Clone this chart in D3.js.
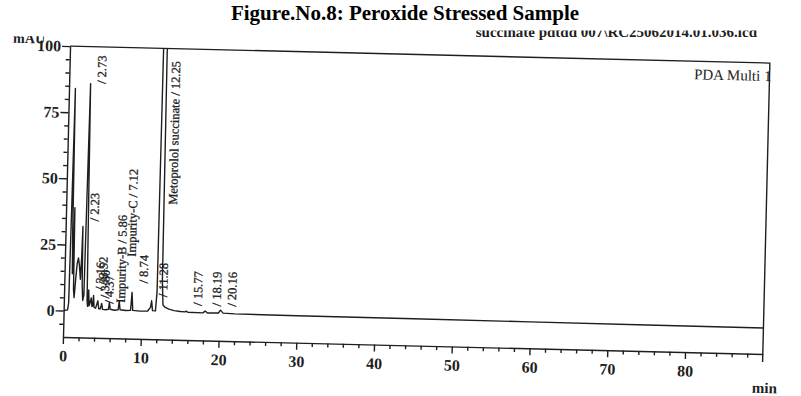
<!DOCTYPE html>
<html>
<head>
<meta charset="utf-8">
<script src="https://cdn.jsdelivr.net/npm/d3@7"></script>
<style>
  html, body { margin: 0; padding: 0; background: #fff; }
  svg { display: block; font-family: "Liberation Serif", "Times New Roman", serif; }
</style>
</head>
<body>
<svg id="chart" width="801" height="396"></svg>
<script>
// Trace: retention time (min) and signal (mAU)
const traceTime = [0, 0.5, 0.62, 0.72, 0.82, 0.92, 1.0, 1.07, 1.13, 1.2, 1.3, 1.45, 1.6, 1.75, 1.9, 2.05, 2.15, 2.22, 2.3, 2.42, 2.55, 2.65, 2.76, 2.88, 2.98, 3.06, 3.16, 3.26, 3.4, 3.52, 3.62, 3.72, 3.8, 3.9, 4.1, 4.37, 4.5, 4.7, 4.87, 5.0, 5.4, 5.75, 5.86, 5.98, 6.5, 7.0, 7.12, 7.25, 8.0, 8.6, 8.74, 8.88, 9.8, 10.8, 11.15, 11.28, 11.42, 11.8, 11.95, 12.08, 12.45, 12.6, 12.75, 13.0, 13.5, 14.2, 15.0, 15.6, 15.77, 15.95, 17.9, 18.19, 18.5, 19.9, 20.16, 20.5, 22, 30, 45, 60, 75, 90];
const traceMAU  = [0, 0.3, 3, 40, 84, 30, 14, 20, 39, 8, 5, 12, 18, 20, 17, 12, 20, 32, 10, 4, 6, 45, 86, 40, 4, 1.8, 8, 2, 3.5, 5, 1.8, 2, 6, 1.5, 1.2, 4, 1, 1, 3, 0.8, 0.7, 0.9, 3.5, 0.9, 0.6, 0.8, 4, 0.8, 0.6, 0.7, 7.5, 0.7, 0.5, 0.6, 2, 4.5, 0.8, 0.7, 8, 150, 150, 12, 3, 2.2, 1.5, 1, 0.7, 0.6, 0.9, 0.5, 0.4, 1.1, 0.4, 0.5, 1.6, 0.5, 0.3, 0.2, 0.1, 0, -0.1, -0.2];

// Peak annotations: retention time, text, height (mAU) where the label starts
const peakTimes  = [2.23, 2.73, 3.16, 3.52, 3.80, 4.37, 5.86, 7.12, 8.74, 11.28, 12.25, 15.77, 18.19, 20.16];
const peakTexts  = ["/ 2.23", "/ 2.73", "/ 3.16", "/ 3.52", "/ 3.80", "/ 4.37", "Impurity-B / 5.86", "Impurity-C / 7.12", "/ 8.74", "/ 11.28", "Metoprolol succinate / 12.25", "/ 15.77", "/ 18.19", "/ 20.16"];
const peakLabelAt = [34, 86, 8, 10, 5, 3, 3.5, 21, 11, 6, 41, 3, 3, 3];

const xMajor = [0, 10, 20, 30, 40, 50, 60, 70, 80];
const yMajor = [0, 25, 50, 75, 100];

const svg = d3.select("#chart");
const ink = "#1e1e1e";

// Caption
svg.append("text")
    .attr("x", 405).attr("y", 19.5)
    .attr("text-anchor", "middle")
    .attr("font-weight", "bold")
    .attr("font-size", 21)
    .attr("fill", "#000")
    .text("Figure.No.8: Peroxide Stressed Sample");

// Scanned plot, slightly rotated as on the page
const x0 = 63, axisY = 337, plotW = 700, plotH = 291;
const x = d3.scaleLinear().domain([0, 90]).range([x0, x0 + plotW]);
const y = d3.scaleLinear().domain([-10, 100]).range([axisY, axisY - plotH]);

const defs = svg.append("defs");
defs.append("clipPath").attr("id", "plotClip")
  .append("rect")
    .attr("x", x0).attr("y", y(100))
    .attr("width", plotW).attr("height", plotH);
defs.append("clipPath").attr("id", "pathClip")
  .append("rect").attr("x", 476).attr("y", 30.5).attr("width", 330).attr("height", 20);
defs.append("clipPath").attr("id", "unitClip")
  .append("rect").attr("x", 0).attr("y", 37).attr("width", 60).attr("height", 20);

// Header pieces partly hidden under the caption
svg.append("text")
    .attr("clip-path", "url(#pathClip)")
    .attr("x", 757).attr("y", 36.5)
    .attr("text-anchor", "end")
    .attr("font-size", 15)
    .attr("font-weight", "bold")
    .attr("fill", ink)
    .text("D:\\Data\\Metoprolol succinate pdtdd 007\\RC25062014.01.036.lcd");

const page = svg.append("g")
    .attr("transform", `rotate(1.39, ${x0}, ${axisY})`);

page.append("text")
    .attr("clip-path", "url(#unitClip)")
    .attr("x", 6).attr("y", 44)
    .attr("font-size", 14)
    .attr("font-weight", "bold")
    .attr("fill", ink)
    .text("mAU");

// Frame
page.append("path")
    .attr("d", `M${x0},${y(100)}H${x0 + plotW}V${axisY + 8}`)
    .attr("fill", "none")
    .attr("stroke", ink)
    .attr("stroke-width", 1.4);

// Y axis
page.append("g")
    .attr("transform", `translate(${x0},0)`)
    .call(d3.axisLeft(y).tickValues(yMajor).tickSize(8).tickSizeOuter(0).tickPadding(1));
page.append("g")
    .attr("transform", `translate(${x0},0)`)
    .call(d3.axisLeft(y).tickValues(d3.range(-5, 100, 5).filter(v => v % 25 !== 0)).tickSize(4).tickFormat(""))
    .select(".domain").remove();

// X axis
page.append("g")
    .attr("transform", `translate(0,${axisY})`)
    .call(d3.axisBottom(x).tickValues(xMajor).tickSize(7).tickSizeOuter(0).tickPadding(6));
page.append("g")
    .attr("transform", `translate(0,${axisY})`)
    .call(d3.axisBottom(x).tickValues(d3.range(2, 90, 2).filter(v => v % 10 !== 0)).tickSize(4).tickFormat(""))
    .select(".domain").remove();

page.selectAll(".tick line, .domain").attr("stroke", ink).attr("stroke-width", 1.4);
page.selectAll(".tick text")
    .attr("font-family", "'Liberation Serif', serif")
    .attr("font-size", 16)
    .attr("font-weight", "bold")
    .attr("fill", ink);

page.append("text")
    .attr("x", x0 + plotW - 10).attr("y", axisY + 39)
    .attr("font-size", 15)
    .attr("font-weight", "bold")
    .attr("fill", ink)
    .text("min");

page.append("text")
    .attr("x", x0 + plotW + 2).attr("y", y(100) + 18)
    .attr("text-anchor", "end")
    .attr("font-size", 15)
    .attr("fill", ink)
    .text("PDA Multi 1");

// Chromatogram trace
const trace = traceTime.map((t, i) => [t, traceMAU[i]]);
page.append("path")
    .datum(trace)
    .attr("clip-path", "url(#plotClip)")
    .attr("fill", "none")
    .attr("stroke", ink)
    .attr("stroke-width", 1.4)
    .attr("stroke-linejoin", "round")
    .attr("d", d3.line().x(d => x(d[0])).y(d => y(d[1])));

// Peak labels, vertical
page.append("g")
  .selectAll("text")
  .data(peakTimes)
  .join("text")
    .attr("transform", (d, i) => `translate(${x(d) + 11},${y(peakLabelAt[i])}) rotate(-90)`)
    .attr("dy", "0.35em")
    .attr("font-size", 12.5)
    .attr("fill", ink)
    .attr("stroke", ink)
    .attr("stroke-width", 0.3)
    .text((d, i) => peakTexts[i]);
</script>
</body>
</html>
